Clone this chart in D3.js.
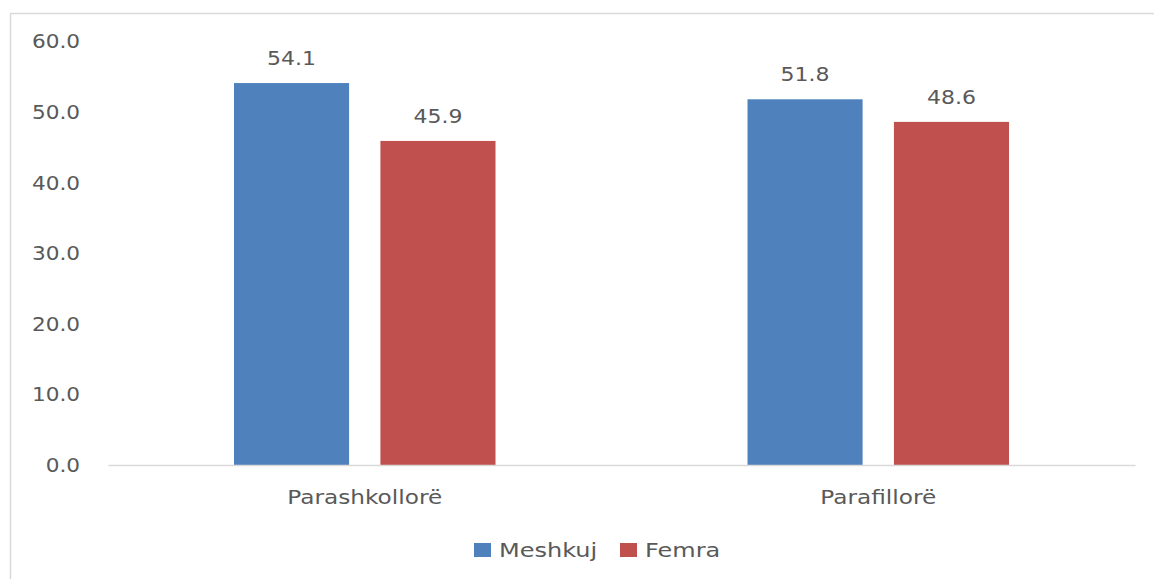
<!DOCTYPE html>
<html>
<head>
<meta charset="utf-8">
<script src="https://cdn.jsdelivr.net/npm/d3@7"></script>
<style>
  html, body { margin: 0; padding: 0; background: #fff; }
  svg { display: block; }
  text { font-family: "DejaVu Sans", sans-serif; fill: #595959; }
</style>
</head>
<body>
<svg id="chart" width="1154" height="579"></svg>
<script>
const categories = ["Parashkollorë", "Parafillorë"];
const seriesNames = ["Meshkuj", "Femra"];
const meshkuj = [54.1, 51.8];
const femra = [45.9, 48.6];
const yTicks = [0, 10, 20, 30, 40, 50, 60];
const colors = ["#4f81bd", "#c0504d"];

const values = [meshkuj, femra];
const svg = d3.select("#chart");

function stretch(sel, f) {
  sel.each(function () {
    const w = this.getComputedTextLength();
    d3.select(this).attr("textLength", w * f).attr("lengthAdjust", "spacingAndGlyphs");
  });
}

// outer frame
svg.append("rect")
  .attr("x", 10.5).attr("y", 13.5)
  .attr("width", 1160).attr("height", 600)
  .attr("fill", "none").attr("stroke", "#d9d9d9").attr("stroke-width", 1.5);

const plot = { left: 108, right: 1135, top: 41.4, bottom: 465 };

const y = d3.scaleLinear().domain([0, 60]).range([plot.bottom, plot.top]);
const x0 = d3.scaleBand().domain(categories).range([plot.left, plot.right]).paddingInner(0).paddingOuter(0);
const outerPad = 126;
const x1 = d3.scaleBand().domain(seriesNames)
  .range([outerPad, x0.bandwidth() - outerPad]).paddingInner(0.214).paddingOuter(0);

// y axis labels
const yAxis = d3.axisLeft(y).tickValues(yTicks).tickFormat(d3.format(".1f")).tickSize(0).tickPadding(0);
const yg = svg.append("g").attr("transform", "translate(80,0)").call(yAxis);
yg.select(".domain").remove();
yg.selectAll("text").style("font-size", "20px").attr("fill", "#595959")
  .style("font-family", "DejaVu Sans, sans-serif").call(stretch, 1.08);

// bars
const groups = svg.append("g").selectAll("g").data(categories).join("g")
  .attr("transform", d => `translate(${x0(d)},0)`);

groups.selectAll("rect")
  .data((c, ci) => seriesNames.map((s, si) => ({ s, si, v: values[si][ci] })))
  .join("rect")
  .attr("x", d => x1(d.s))
  .attr("width", x1.bandwidth())
  .attr("y", d => y(d.v))
  .attr("height", d => y(0) - y(d.v))
  .attr("fill", d => colors[d.si]);

groups.selectAll("text.lbl")
  .data((c, ci) => seriesNames.map((s, si) => ({ s, si, v: values[si][ci] })))
  .join("text")
  .attr("class", "lbl")
  .attr("x", d => x1(d.s) + x1.bandwidth() / 2)
  .attr("y", d => y(d.v) - 18)
  .attr("text-anchor", "middle")
  .style("font-size", "20px")
  .text(d => d3.format(".1f")(d.v))
  .call(stretch, 1.1);

// x axis
const xAxis = d3.axisBottom(x0).tickSize(0).tickPadding(0);
const xg = svg.append("g").attr("transform", `translate(0,${plot.bottom})`).call(xAxis);
xg.select(".domain").attr("stroke", "#d9d9d9").attr("stroke-width", 1.5);
xg.selectAll("text").attr("dy", null).attr("y", 39)
  .style("font-size", "20px").attr("fill", "#595959")
  .style("font-family", "DejaVu Sans, sans-serif").call(stretch, 1.16);

// legend
const legend = svg.append("g");
const legendItems = [{ x: 474, tx: 499 }, { x: 620, tx: 645 }];
seriesNames.forEach((s, i) => {
  legend.append("rect").attr("x", legendItems[i].x).attr("y", 543)
    .attr("width", 17).attr("height", 14).attr("fill", colors[i]);
  legend.append("text").attr("x", legendItems[i].tx).attr("y", 557)
    .style("font-size", "20px").text(s).call(stretch, 1.2);
});
</script>
</body>
</html>
